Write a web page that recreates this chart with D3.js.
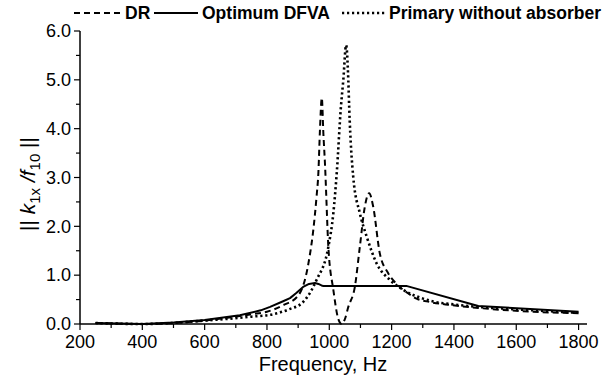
<!DOCTYPE html>
<html>
<head>
<meta charset="utf-8">
<script src="https://cdn.jsdelivr.net/npm/d3@7"></script>
<style>
  body { margin: 0; background: #fff; }
  svg { display: block; font-family: "Liberation Sans", Arial, sans-serif; }
</style>
</head>
<body>
<div id="chart"></div>
<script>
// values
var drFreq = [250, 400, 600, 750, 800, 850, 900, 933, 950, 959, 965, 970, 976, 981, 986, 997, 1013, 1029, 1040, 1050, 1061, 1082, 1098, 1114, 1128, 1141, 1162, 1189, 1216, 1250, 1280, 1323, 1387, 1494, 1655, 1800];
var drVal  = [0.02, 0.0, 0.07, 0.2, 0.25, 0.38, 0.58, 1.24, 2.0, 2.6, 3.1, 3.97, 4.63, 3.9, 3.3, 1.58, 0.7, 0.1, 0.0, 0.1, 0.35, 0.76, 1.58, 2.4, 2.68, 2.4, 1.45, 1.04, 0.82, 0.64, 0.52, 0.45, 0.39, 0.32, 0.25, 0.22];

var optFreq = [250, 400, 500, 600, 713, 780, 810, 850, 874, 895, 916, 935, 954, 965, 975, 981, 1247, 1478, 1800];
var optVal  = [0.02, 0.0, 0.03, 0.08, 0.18, 0.28, 0.35, 0.46, 0.53, 0.64, 0.76, 0.82, 0.84, 0.82, 0.79, 0.78, 0.78, 0.37, 0.25];

var primFreq = [250, 400, 600, 750, 820, 870, 916, 959, 997, 1013, 1024, 1037, 1045, 1054, 1061, 1064, 1077, 1098, 1120, 1152, 1195, 1237, 1301, 1334, 1400, 1478, 1601, 1800];
var primVal  = [0.02, 0.0, 0.07, 0.15, 0.2, 0.3, 0.45, 0.9, 1.58, 2.27, 3.1, 4.42, 5.0, 5.71, 5.0, 4.42, 3.0, 2.27, 1.79, 1.24, 0.9, 0.7, 0.52, 0.46, 0.4, 0.35, 0.3, 0.23];

var xTicks = [200, 400, 600, 800, 1000, 1200, 1400, 1600, 1800];
var yTicks = [0, 1, 2, 3, 4, 5, 6];

var seriesNames = ["DR", "Optimum DFVA", "Primary without absorber"];

var width = 610, height = 384;

var svg = d3.select("#chart").append("svg")
  .attr("width", width)
  .attr("height", height);

// scales
var x = d3.scaleLinear().domain([200, 1827]).range([80, 587]);
var y = d3.scaleLinear().domain([0, 6]).range([324, 31]);

function zip(f, v) {
  return f.map(function (d, i) { return { x: d, y: v[i] }; });
}

var smooth = d3.line()
  .x(function (d) { return x(d.x); })
  .y(function (d) { return y(d.y); })
  .curve(d3.curveMonotoneX);

var straight = d3.line()
  .x(function (d) { return x(d.x); })
  .y(function (d) { return y(d.y); });

// X axis
var xAxis = svg.append("g")
  .attr("transform", "translate(0," + y(0) + ")");
xAxis.append("line")
  .attr("x1", x(200)).attr("x2", 587)
  .attr("stroke", "#000").attr("stroke-width", 1.5);
xAxis.selectAll(".minor")
  .data(d3.range(300, 1800, 200))
  .enter().append("line")
  .attr("x1", function (d) { return x(d); })
  .attr("x2", function (d) { return x(d); })
  .attr("y1", 0).attr("y2", 4)
  .attr("stroke", "#000").attr("stroke-width", 1.2);
xAxis.selectAll(".major")
  .data(xTicks)
  .enter().append("line")
  .attr("x1", function (d) { return x(d); })
  .attr("x2", function (d) { return x(d); })
  .attr("y1", 0).attr("y2", 6)
  .attr("stroke", "#000").attr("stroke-width", 1.2);
xAxis.selectAll("text")
  .data(xTicks)
  .enter().append("text")
  .attr("x", function (d) { return x(d); })
  .attr("y", 24)
  .attr("text-anchor", "middle")
  .style("font-size", "18px")
  .text(function (d) { return d; });

// Y axis
var yAxis = svg.append("g")
  .attr("transform", "translate(" + x(200) + ",0)");
yAxis.append("line")
  .attr("y1", y(0)).attr("y2", y(6))
  .attr("stroke", "#000").attr("stroke-width", 1.5);
yAxis.selectAll(".minor")
  .data(d3.range(0.5, 6, 1))
  .enter().append("line")
  .attr("y1", function (d) { return y(d); })
  .attr("y2", function (d) { return y(d); })
  .attr("x1", 0).attr("x2", -4)
  .attr("stroke", "#000").attr("stroke-width", 1.2);
yAxis.selectAll(".major")
  .data(yTicks)
  .enter().append("line")
  .attr("y1", function (d) { return y(d); })
  .attr("y2", function (d) { return y(d); })
  .attr("x1", 0).attr("x2", -6)
  .attr("stroke", "#000").attr("stroke-width", 1.2);
yAxis.selectAll("text")
  .data(yTicks)
  .enter().append("text")
  .attr("x", -9)
  .attr("y", function (d) { return y(d); })
  .attr("dy", "0.35em")
  .attr("text-anchor", "end")
  .style("font-size", "18px")
  .text(function (d) { return d3.format(".1f")(d); });

// axis titles
svg.append("text")
  .attr("x", 323)
  .attr("y", 371)
  .attr("text-anchor", "middle")
  .style("font-size", "20px")
  .text("Frequency, Hz");

var yl = svg.append("text")
  .attr("transform", "translate(35,184) rotate(-90)")
  .attr("text-anchor", "middle")
  .style("font-size", "21px");
yl.append("tspan").text("|| ");
yl.append("tspan").style("font-style", "italic").text("k");
yl.append("tspan").attr("dy", 5).style("font-size", "15px").text("1x");
yl.append("tspan").attr("dy", -5).style("font-style", "italic").text(" /");
yl.append("tspan").style("font-style", "italic").text("f");
yl.append("tspan").attr("dy", 5).style("font-size", "15px").text("10");
yl.append("tspan").attr("dy", -5).text(" ||");

// curves
var styles = [
  { data: zip(drFreq, drVal), dash: "6,4", w: 2, gen: smooth },
  { data: zip(optFreq, optVal), dash: null, w: 2, gen: straight },
  { data: zip(primFreq, primVal), dash: "2.2,2.8", w: 2.6, gen: smooth }
];

styles.forEach(function (s) {
  svg.append("path")
    .attr("d", s.gen(s.data))
    .attr("fill", "none")
    .attr("stroke", "#000")
    .attr("stroke-width", s.w)
    .attr("stroke-linejoin", "round")
    .attr("stroke-dasharray", s.dash);
});

// legend
var legendPos = [
  { x1: 74, x2: 120, tx: 125 },
  { x1: 154, x2: 198, tx: 202 },
  { x1: 342, x2: 385, tx: 389 }
];
var legend = svg.append("g").attr("transform", "translate(0,13)");
seriesNames.forEach(function (name, i) {
  var p = legendPos[i];
  legend.append("line")
    .attr("x1", p.x1).attr("x2", p.x2)
    .attr("stroke", "#000")
    .attr("stroke-width", styles[i].w)
    .attr("stroke-dasharray", styles[i].dash);
  legend.append("text")
    .attr("x", p.tx)
    .attr("dy", "0.35em")
    .style("font-size", "17.5px")
    .style("font-weight", "bold")
    .text(name);
});
</script>
</body>
</html>
